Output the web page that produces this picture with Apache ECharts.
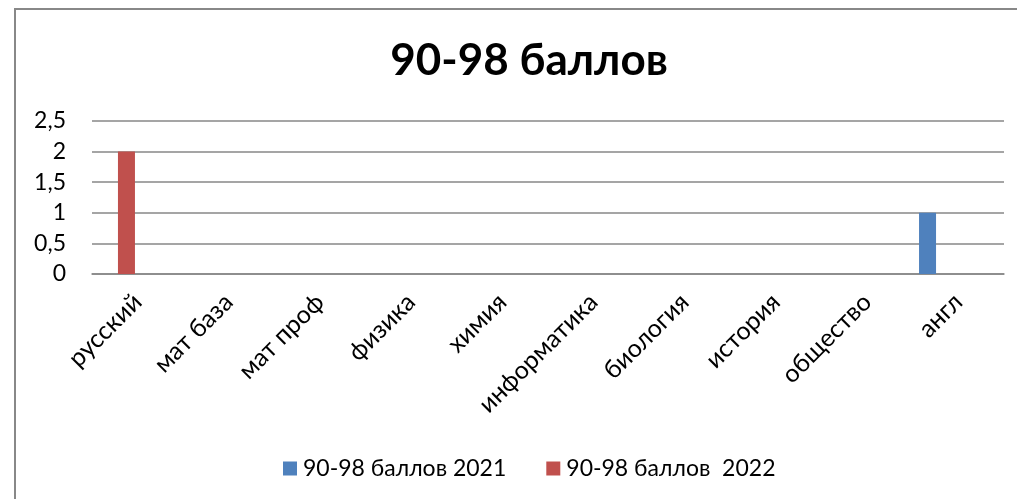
<!DOCTYPE html>
<html>
<head>
<meta charset="utf-8">
<script src="https://cdn.jsdelivr.net/npm/echarts@6/dist/echarts.min.js"></script>
<style>
html,body{margin:0;padding:0;background:#fff;}
#chart{width:1017px;height:499px;}
</style>
</head>
<body>
<div id="chart"></div>
<script>
const categories = ['русский','мат база','мат проф','физика','химия','информатика','биология','история','общество','англ'];
const series2021 = [0,0,0,0,0,0,0,0,0,1];
const series2022 = [2,0,0,0,0,0,0,0,0,0];
const seriesNames = ['90-98 баллов 2021','90-98 баллов  2022'];
const titleText = '90-98 баллов';
const yTicks = {min:0, max:2.5, interval:0.5};

const FONT = 'Lato';
const chart = echarts.init(document.getElementById('chart'), null, {renderer:'canvas'});
const gridTop = 121, gridHeight = 153;
chart.setOption({
  animation:false,
  backgroundColor:'#fff',
  color:['#4F81BD','#C0504D'],
  title:{
    text:titleText, left:524, top:34, textAlign:'center',
    textStyle:{fontFamily:FONT, fontWeight:'bold', fontSize:44, color:'#000'}
  },
  legend:{
    data:seriesNames, left:278, top:452, itemWidth:14, itemHeight:14, itemGap:40,
    icon:'rect',
    textStyle:{fontFamily:FONT, fontSize:23, color:'#000', padding:[0,0,0,1]}
  },
  graphic:[{
    type:'rect', shape:{x:15, y:9, width:1200, height:700},
    style:{fill:'none', stroke:'#888', lineWidth:2}, silent:true, z:-1
  }],
  grid:[
    {left:92, right:13, top:gridTop, height:gridHeight},
    {left:71, right:34, top:gridTop, height:gridHeight}
  ],
  xAxis:[
    {type:'category', data:categories, gridIndex:0,
     axisLine:{lineStyle:{color:'#878787', width:1.5}}, axisTick:{show:false},
     axisLabel:{rotate:45, interval:0, margin:24, fontFamily:FONT, fontSize:25, color:'#000'}},
    {type:'category', data:categories, gridIndex:1, show:false}
  ],
  yAxis:[
    {type:'value', gridIndex:0, min:yTicks.min, max:yTicks.max, interval:yTicks.interval,
     axisLine:{show:false}, axisTick:{show:false},
     splitLine:{lineStyle:{color:'#878787', width:1.5}},
     axisLabel:{margin:26, fontFamily:FONT, fontSize:23, color:'#000',
       formatter:v=>String(v).replace('.',',')}},
    {type:'value', gridIndex:1, min:yTicks.min, max:yTicks.max, interval:yTicks.interval, show:false}
  ],
  series:[
    {name:seriesNames[0], type:'bar', xAxisIndex:1, yAxisIndex:1, data:series2021, barWidth:17, barGap:'16%'},
    {name:seriesNames[1], type:'bar', xAxisIndex:1, yAxisIndex:1, data:series2022, barWidth:17, barGap:'16%'}
  ]
});
</script>
</body>
</html>
